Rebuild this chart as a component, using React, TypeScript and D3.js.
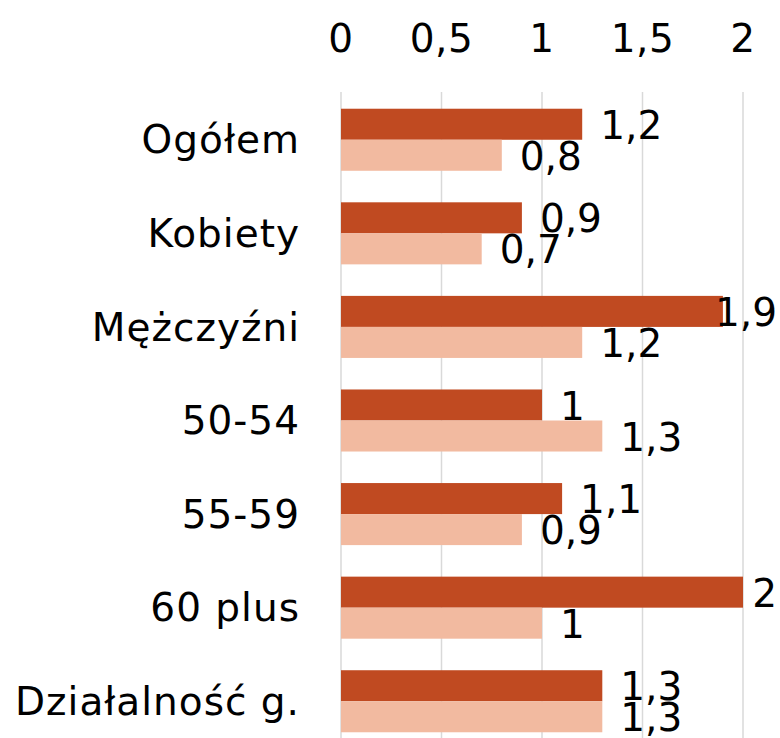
import React, { useEffect, useRef } from 'react';
import * as d3 from 'd3';

const categories = ['Ogółem', 'Kobiety', 'Mężczyźni', '50-54', '55-59', '60 plus', 'Działalność g.'];
const darkValues = [1.2, 0.9, 1.9, 1, 1.1, 2, 1.3];
const lightValues = [0.8, 0.7, 1.2, 1.3, 0.9, 1, 1.3];
const ticks = [0, 0.5, 1, 1.5, 2];

const DARK = '#C04A21';
const LIGHT = '#F2BAA0';
const FONT = '"DejaVu Sans", sans-serif';
const FONT_SIZE = '39px';

const fmt = (v: number) => String(v).replace('.', ',');

export default function App() {
  const svgRef = useRef<SVGSVGElement>(null);

  useEffect(() => {
    if (!svgRef.current) return;
    const svg = d3.select(svgRef.current);
    svg.selectAll('*').remove();

    const width = 780;
    const height = 738;
    const rightEdge = 777;

    const x = d3.scaleLinear().domain([0, 2]).range([341, 743]);
    const y = d3.scaleBand<string>()
      .domain(categories)
      .range([93, 748])
      .paddingInner(0.337)
      .paddingOuter(0.168);

    const bh = y.bandwidth() / 2;

    // gridlines
    svg.append('g')
      .selectAll('line')
      .data(ticks)
      .enter()
      .append('line')
      .attr('x1', d => x(d))
      .attr('x2', d => x(d))
      .attr('y1', 92)
      .attr('y2', height)
      .attr('stroke', '#D9D9D9')
      .attr('stroke-width', 1.5);

    // top axis labels
    svg.append('g')
      .selectAll('text')
      .data(ticks)
      .enter()
      .append('text')
      .attr('x', d => x(d))
      .attr('y', 52)
      .attr('text-anchor', 'middle')
      .style('font-family', FONT)
      .style('font-size', FONT_SIZE)
      .style('letter-spacing', '0.5px')
      .style('fill', '#000')
      .text(d => fmt(d));

    // category labels
    svg.append('g')
      .selectAll('text')
      .data(categories)
      .enter()
      .append('text')
      .attr('x', 300)
      .attr('y', d => (y(d) as number) + y.bandwidth() / 2)
      .attr('dy', '0.35em')
      .attr('text-anchor', 'end')
      .style('font-family', FONT)
      .style('font-size', FONT_SIZE)
      .style('letter-spacing', '1px')
      .style('fill', '#000')
      .text(d => d);

    const rows = categories.map((c, i) => ({ c, dark: darkValues[i], light: lightValues[i] }));

    svg.append('g')
      .selectAll('rect')
      .data(rows)
      .enter()
      .append('rect')
      .attr('x', x(0))
      .attr('y', d => y(d.c) as number)
      .attr('width', d => x(d.dark) - x(0))
      .attr('height', bh)
      .attr('fill', DARK);

    svg.append('g')
      .selectAll('rect')
      .data(rows)
      .enter()
      .append('rect')
      .attr('x', x(0))
      .attr('y', d => (y(d.c) as number) + bh)
      .attr('width', d => x(d.light) - x(0))
      .attr('height', bh)
      .attr('fill', LIGHT);

    // value labels, pulled back inside the chart when they would run off the edge
    const placeLabel = function (this: SVGTextElement, d: number) {
      const w = this.getComputedTextLength();
      const px = Math.min(x(d) + 18, rightEdge - w);
      d3.select(this).attr('x', px);
    };

    svg.append('g')
      .selectAll('text')
      .data(rows)
      .enter()
      .append('text')
      .attr('y', d => (y(d.c) as number) + bh / 2 + 1)
      .attr('dy', '0.35em')
      .style('font-family', FONT)
      .style('font-size', FONT_SIZE)
      .style('fill', '#000')
      .text(d => fmt(d.dark))
      .each(function (d) { placeLabel.call(this as SVGTextElement, d.dark); });

    svg.append('g')
      .selectAll('text')
      .data(rows)
      .enter()
      .append('text')
      .attr('y', d => (y(d.c) as number) + bh * 1.5 + 1)
      .attr('dy', '0.35em')
      .style('font-family', FONT)
      .style('font-size', FONT_SIZE)
      .style('fill', '#000')
      .text(d => fmt(d.light))
      .each(function (d) { placeLabel.call(this as SVGTextElement, d.light); });

    svg.attr('width', width).attr('height', height);
  }, []);

  return (
    <svg
      ref={svgRef}
      width={780}
      height={738}
      style={{ position: 'absolute', left: 0, top: 0, background: '#fff' }}
    />
  );
}
